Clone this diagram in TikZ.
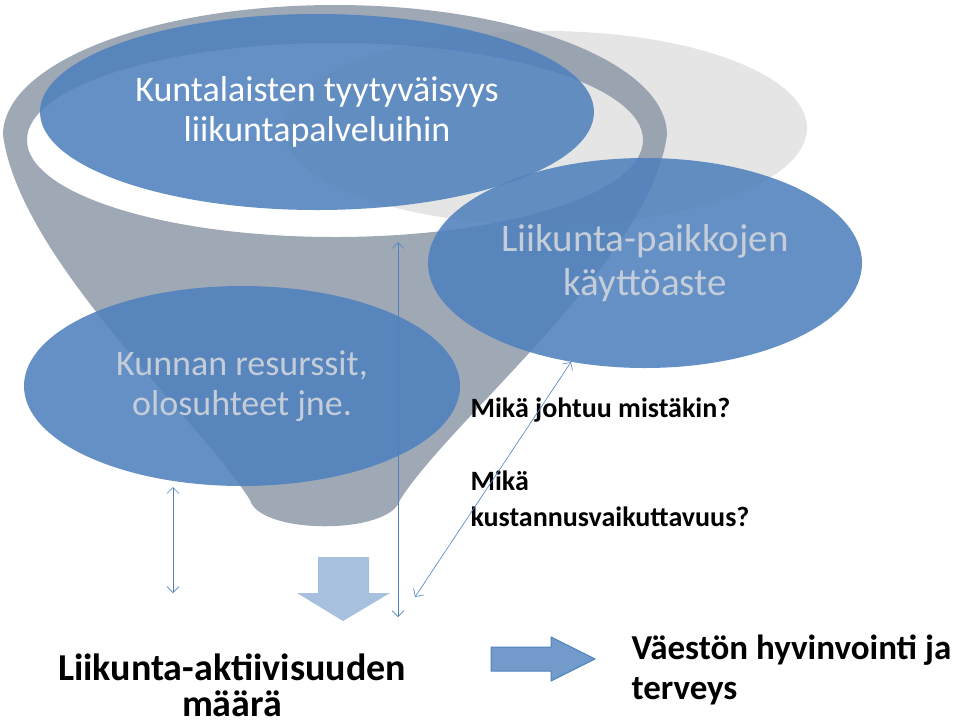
\documentclass[tikz,border=0pt]{standalone}
\usepackage{fontspec}
\setmainfont{Carlito}
\usetikzlibrary{arrows.meta,shapes.geometric}
\definecolor{bl}{HTML}{4F81BD}
\definecolor{fun}{HTML}{8794A4}
\definecolor{lt}{HTML}{C4CDD9}
\tikzset{blob/.style={ellipse,fill=bl,fill opacity=0.88,text opacity=1,align=center,inner sep=0pt},
  dbl/.style={draw=bl,{Straight Barb[length=6pt]}-{Straight Barb[length=6pt]},line width=0.6pt},
  big/.style={font=\bfseries\fontsize{38}{40}\selectfont,align=left}}
\begin{document}
\begin{tikzpicture}[x=1pt,y=-1pt]
\useasboundingbox (0,0) rectangle (960,721);
% background light ellipse
\fill[gray!25,opacity=0.8] (545,128) ellipse [x radius=262,y radius=97];
% funnel
\fill[fun,fill opacity=0.8,even odd rule]
  (3,135) .. controls (20,260) and (200,420) .. (250,500)
  .. controls (260,535) and (390,535) .. (400,500)
  .. controls (450,420) and (650,260) .. (667,135)
  arc[start angle=0,end angle=-180,x radius=332,y radius=130] -- cycle
  (335,140) ellipse [x radius=308,y radius=97];
\node[blob,minimum width=554,minimum height=196,text=white,font=\fontsize{36}{40}\selectfont] (top) at (317,112) {Kuntalaisten tyytyväisyys\\liikuntapalveluihin};
\node[blob,minimum width=434,minimum height=210,text=lt,font=\fontsize{39}{44}\selectfont] (paik) at (645,263) {Liikunta-paikkojen\\käyttöaste};
\node[blob,minimum width=436,minimum height=200,text=lt,font=\fontsize{36}{40}\selectfont] (kun) at (242,386) {Kunnan resurssit,\\olosuhteet jne.};
% texts
\node[anchor=west,font=\bfseries\fontsize{28}{30}\selectfont] (q1) at (467,410) {Mikä johtuu mistäkin?};
\node[anchor=west,align=left,font=\bfseries\fontsize{28}{36}\selectfont] (q2) at (467,499) {Mikä\\kustannusvaikuttavuus?};
\node[big,align=center] (akt) at (232,685) {Liikunta-aktiivisuuden\\[-4pt]määrä};
\node[big,anchor=west,font=\bfseries\fontsize{35}{40}\selectfont] (vae) at (628,670) {Väestön hyvinvointi ja\\terveys};
% connectors
\coordinate (a1) at (173,487); \coordinate (a2) at (173,593);
\coordinate (b1) at (398,242); \coordinate (b2) at (398,617);
\coordinate (c1) at (571,362); \coordinate (c2) at (415,597);
\draw[dbl] (a1) -- (a2);
\draw[dbl] (b1) -- (b2);
\draw[dbl] (c1) -- (c2);
% down arrow
\fill[bl!50] (318,557) -- (369,557) -- (369,593) -- (390,593) -- (343,621) -- (297,593) -- (318,593) -- cycle;
% right arrow
\draw[bl,fill=bl!80,line width=1pt] (491,647) -- (551,647) -- (551,637) -- (595,659) -- (551,681) -- (551,671) -- (491,671) -- cycle;
\end{tikzpicture}
\end{document}
